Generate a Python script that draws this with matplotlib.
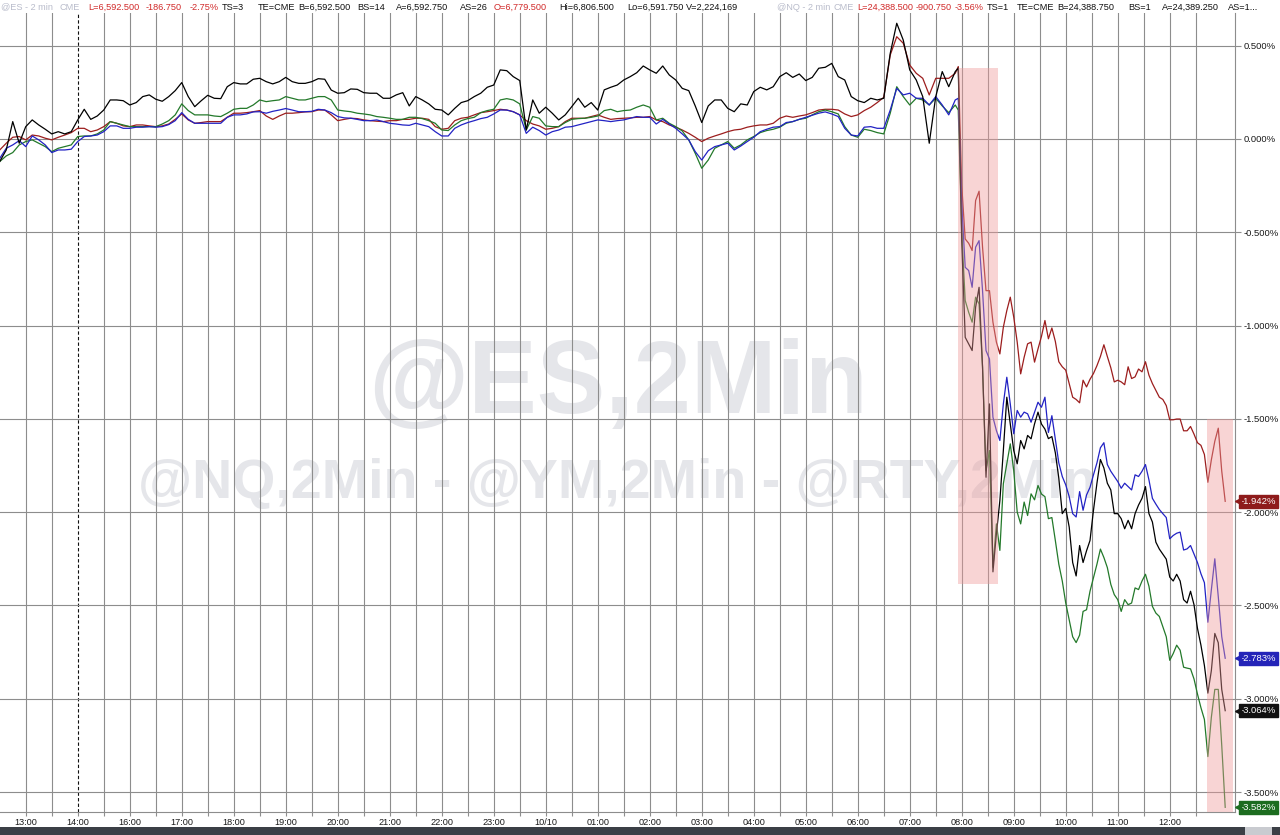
import numpy as np
import matplotlib
matplotlib.use("Agg")
import matplotlib.pyplot as plt
from matplotlib.patches import Rectangle
from matplotlib.transforms import blended_transform_factory

plt.rcParams["font.family"] = ["Liberation Sans", "DejaVu Sans"]

# =====================
# DATA  (x = minutes on the session clock, 0 = 13:00, 15:00 hour skipped)
# =====================

calm_minutes = np.arange(-30, 1075, 7.5)      # 7.5 min readings up to 07:52
crash_minutes = np.arange(1076, 1385, 4)      # 4 min readings from 07:56

rty_calm = [-0.121, -0.059, 0.093, -0.023, 0.066, 0.102, 0.075, 0.052, 0.027, 0.039,
            0.027, 0.039, 0.102, 0.159, 0.105, 0.123, 0.155, 0.209, 0.209, 0.205,
            0.182, 0.195, 0.227, 0.236, 0.213, 0.202, 0.227, 0.259, 0.302, 0.227,
            0.173, 0.205, 0.234, 0.218, 0.216, 0.280, 0.302, 0.295, 0.295, 0.320,
            0.325, 0.307, 0.295, 0.307, 0.330, 0.307, 0.298, 0.298, 0.307, 0.323,
            0.320, 0.262, 0.245, 0.248, 0.268, 0.266, 0.248, 0.245, 0.245, 0.218,
            0.218, 0.236, 0.248, 0.177, 0.227, 0.209, 0.188, 0.159,
            0.155, 0.129, 0.164, 0.195, 0.205, 0.227, 0.245, 0.277, 0.289, 0.370,
            0.366, 0.334, 0.313, 0.048, 0.209, 0.138, 0.170, 0.138, 0.102, 0.129,
            0.173, 0.218, 0.170, 0.195, 0.155, 0.263, 0.277, 0.289, 0.316, 0.334,
            0.355, 0.391, 0.370, 0.352, 0.391, 0.343, 0.316, 0.271, 0.259, 0.177,
            0.088, 0.177, 0.209, 0.209, 0.164, 0.146, 0.188, 0.182, 0.254, 0.277,
            0.263, 0.280, 0.334, 0.355, 0.330, 0.348, 0.313, 0.330, 0.379, 0.384,
            0.405, 0.334, 0.316, 0.227, 0.205, 0.195,
            0.218, 0.209, 0.218, 0.459, 0.620, 0.530, 0.370, 0.316, 0.227, -0.023,
            0.227, 0.361, 0.280, 0.361]

nq_calm = [-0.121, -0.091, -0.073, -0.032, -0.014, -0.005, -0.023, -0.041, -0.068, -0.050,
           -0.041, -0.032, 0.013, 0.016, 0.016, 0.027, 0.048, 0.093, 0.084, 0.075,
           0.066, 0.066, 0.066, 0.066, 0.066, 0.080, 0.098, 0.129, 0.188, 0.152,
           0.129, 0.129, 0.129, 0.123, 0.120, 0.138, 0.159, 0.164, 0.164, 0.182,
           0.209, 0.200, 0.205, 0.209, 0.227, 0.218, 0.209, 0.209, 0.218, 0.227,
           0.227, 0.209, 0.155, 0.150, 0.146, 0.138, 0.134, 0.129, 0.120, 0.116,
           0.111, 0.105, 0.105, 0.116, 0.116, 0.109, 0.098, 0.084,
           0.048, 0.045, 0.075, 0.098, 0.109, 0.116, 0.141, 0.152, 0.159, 0.209,
           0.216, 0.209, 0.188, 0.048, 0.120, 0.111, 0.070, 0.066, 0.066, 0.088,
           0.105, 0.109, 0.111, 0.116, 0.123, 0.152, 0.159, 0.146, 0.152, 0.155,
           0.170, 0.182, 0.170, 0.102, 0.111, 0.084, 0.066, 0.043, -0.005, -0.077,
           -0.157, -0.113, -0.050, -0.032, -0.014, -0.050, -0.032, -0.005, 0.013, 0.034,
           0.045, 0.052, 0.063, 0.084, 0.093, 0.105, 0.111, 0.129, 0.146, 0.155,
           0.146, 0.134, 0.066, 0.021, 0.009, 0.052,
           0.045, 0.034, 0.027, 0.138, 0.280, 0.227, 0.182, 0.218, 0.209, 0.182,
           0.218, 0.177, 0.141, 0.182]

es_calm = [-0.104, -0.050, -0.032, -0.009, -0.041, 0.016, -0.005, -0.032, -0.073, -0.059,
           -0.059, -0.055, -0.014, 0.013, 0.016, 0.021, 0.039, 0.070, 0.070, 0.057,
           0.057, 0.063, 0.063, 0.066, 0.063, 0.066, 0.077, 0.098, 0.141, 0.105,
           0.084, 0.084, 0.084, 0.084, 0.084, 0.116, 0.129, 0.129, 0.134, 0.145,
           0.146, 0.138, 0.148, 0.155, 0.163, 0.155, 0.146, 0.146, 0.148, 0.159,
           0.155, 0.141, 0.120, 0.113, 0.111, 0.105, 0.098, 0.098, 0.102, 0.093,
           0.084, 0.080, 0.075, 0.073, 0.084, 0.075, 0.066, 0.039,
           0.016, 0.016, 0.057, 0.075, 0.088, 0.098, 0.109, 0.116, 0.134, 0.155,
           0.155, 0.146, 0.129, 0.030, 0.063, 0.045, 0.021, 0.039, 0.048, 0.063,
           0.066, 0.075, 0.084, 0.093, 0.102, 0.098, 0.093, 0.098, 0.102, 0.111,
           0.120, 0.116, 0.116, 0.080, 0.105, 0.080, 0.057, 0.027, -0.005, -0.068,
           -0.113, -0.063, -0.041, -0.032, -0.023, -0.059, -0.038, -0.014, 0.009, 0.039,
           0.052, 0.063, 0.066, 0.088, 0.093, 0.105, 0.116, 0.127, 0.138, 0.145,
           0.134, 0.120, 0.057, 0.021, 0.016, 0.063,
           0.066, 0.057, 0.057, 0.155, 0.271, 0.236, 0.245, 0.218, 0.218, 0.182,
           0.227, 0.182, 0.129, 0.209]

ym_calm = [-0.059, -0.023, 0.009, 0.013, -0.005, 0.021, 0.016, 0.004, -0.005, 0.009,
           0.021, 0.034, 0.057, 0.057, 0.039, 0.048, 0.066, 0.093, 0.084, 0.070,
           0.066, 0.075, 0.075, 0.070, 0.066, 0.070, 0.080, 0.105, 0.134, 0.102,
           0.084, 0.088, 0.093, 0.093, 0.093, 0.116, 0.138, 0.138, 0.141, 0.146,
           0.152, 0.123, 0.105, 0.123, 0.138, 0.138, 0.141, 0.145, 0.146, 0.155,
           0.155, 0.129, 0.098, 0.105, 0.111, 0.109, 0.102, 0.098, 0.095, 0.093,
           0.098, 0.098, 0.105, 0.105, 0.111, 0.111, 0.105, 0.066,
           0.052, 0.057, 0.098, 0.111, 0.116, 0.129, 0.141, 0.146, 0.152, 0.159,
           0.155, 0.146, 0.129, 0.098, 0.080, 0.070, 0.052, 0.057, 0.066, 0.093,
           0.111, 0.111, 0.111, 0.120, 0.129, 0.116, 0.105, 0.109, 0.111, 0.113,
           0.116, 0.116, 0.120, 0.102, 0.093, 0.075, 0.063, 0.048, 0.030, 0.009,
           -0.014, 0.004, 0.016, 0.027, 0.039, 0.048, 0.052, 0.063, 0.070, 0.075,
           0.075, 0.084, 0.111, 0.123, 0.116, 0.123, 0.129, 0.141, 0.155, 0.159,
           0.159, 0.155, 0.134, 0.120, 0.129, 0.152,
           0.170, 0.195, 0.223, 0.450, 0.548, 0.513, 0.396, 0.352, 0.325, 0.236,
           0.325, 0.325, 0.325, 0.352]

ym_crash = [0.388, -0.25, -0.536, -0.559, -0.598, -0.33, -0.28, -0.58, -0.813, -0.813,
            -0.982, -1.089, -1.152, -1.009, -0.92, -0.848, -0.955, -1.089, -1.259, -1.17,
            -1.098, -1.089, -1.196, -1.125,
            -1.058, -0.973, -1.071, -1.013, -1.085, -1.194, -1.221, -1.239, -1.311, -1.384,
            -1.396, -1.414, -1.293, -1.329, -1.288, -1.257, -1.215, -1.166, -1.103, -1.166,
            -1.226, -1.302, -1.293, -1.302, -1.317, -1.221, -1.284, -1.275, -1.233, -1.248,
            -1.194, -1.266, -1.311, -1.347, -1.384, -1.396, -1.429, -1.505, -1.505, -1.501,
            -1.501, -1.564, -1.564, -1.541, -1.582, -1.628, -1.642, -1.691,
            -1.84, -1.72, -1.62, -1.55, -1.78, -1.942]

es_crash = [0.218, -0.35, -0.688, -0.705, -0.795, -0.58, -0.545, -0.813, -1.134, -1.179,
            -1.491, -1.563, -1.616, -1.42, -1.277, -1.42, -1.58, -1.455, -1.491, -1.464,
            -1.473, -1.518, -1.464, -1.411,
            -1.438, -1.384, -1.573, -1.483, -1.610, -1.736, -1.809, -1.854, -1.917, -2.008,
            -2.026, -1.890, -1.990, -1.908, -1.867, -1.800, -1.736, -1.655, -1.628, -1.745,
            -1.781, -1.809, -1.836, -1.872, -1.845, -1.863, -1.881, -1.800, -1.809, -1.781,
            -1.745, -1.827, -1.926, -1.957, -1.986, -2.008, -2.029, -2.143, -2.125, -2.113,
            -2.107, -2.203, -2.197, -2.179, -2.225, -2.270, -2.330, -2.378,
            -2.59, -2.417, -2.25, -2.453, -2.667, -2.783]

rty_crash = [0.379, -0.55, -1.063, -1.098, -1.134, -0.902, -0.795, -1.223, -1.813, -1.42,
             -2.32, -2.116, -1.938, -1.67, -1.384, -1.527, -1.67, -1.741, -1.616, -1.661,
             -1.589, -1.607, -1.527, -1.464,
             -1.528, -1.555, -1.606, -1.595, -1.682, -1.818, -2.008, -1.980, -2.080, -2.270,
             -2.342, -2.179, -2.270, -2.207, -2.152, -1.990, -1.845, -1.718, -1.763, -1.845,
             -1.881, -2.008, -2.008, -2.035, -2.089, -2.044, -2.089, -2.008, -1.962, -1.926,
             -1.863, -2.008, -2.053, -2.161, -2.198, -2.225, -2.252, -2.348, -2.369, -2.333,
             -2.369, -2.469, -2.487, -2.424, -2.496, -2.623, -2.713, -2.822,
             -2.97, -2.85, -2.65, -2.70, -2.95, -3.064]

nq_crash = [0.155, -0.5, -0.866, -0.929, -0.982, -0.848, -0.884, -1.223, -1.777, -1.67,
            -2.295, -2.063, -2.205, -1.848, -1.741, -1.634, -1.777, -2.0, -2.063, -1.946,
            -2.018, -1.902, -1.934, -1.857,
            -1.903, -1.917, -2.035, -2.029, -2.152, -2.279, -2.369, -2.487, -2.577, -2.668,
            -2.699, -2.659, -2.532, -2.523, -2.424, -2.351, -2.279, -2.198, -2.243, -2.297,
            -2.387, -2.442, -2.469, -2.532, -2.469, -2.496, -2.487, -2.406, -2.415, -2.369,
            -2.333, -2.397, -2.505, -2.541, -2.559, -2.614, -2.668, -2.794, -2.758, -2.713,
            -2.740, -2.831, -2.836, -2.840, -2.894, -2.975, -3.048, -3.111,
            -3.31, -3.10, -2.95, -2.95, -3.25, -3.582]

tick_minutes = np.arange(0, 1321, 60)
tick_labels = ["13:00", "14:00", "16:00", "17:00", "18:00", "19:00", "20:00", "21:00",
               "22:00", "23:00", "10/10", "01:00", "02:00", "03:00", "04:00", "05:00",
               "06:00", "07:00", "08:00", "09:00", "10:00", "11:00", "12:00"]
y_levels = [0.5, 0.0, -0.5, -1.0, -1.5, -2.0, -2.5, -3.0, -3.5]

# highlighted windows: (start min, end min, low %, high %)
highlights = [(1075.7, 1121.8, -2.386, 0.382),
              (1363.0, 1393.0, -3.62, -1.5)]

series = [  # name, calm, crash, line colour, tag colour
    ("YM", ym_calm, ym_crash, "#9c1d1d", "#8e1b1b"),
    ("NQ", nq_calm, nq_crash, "#23792a", "#1c6c1f"),
    ("ES", es_calm, es_crash, "#2222c4", "#2424b8"),
    ("RTY", rty_calm, rty_crash, "#000000", "#111111"),
]

GREY_T, RED_T, BLK_T = "#b9bccb", "#d12a2a", "#111111"
header = [  # x px, text, colour
    (1, "@ES - 2 min", GREY_T), (60, "CME", GREY_T),
    (88, "L=6,592.500", RED_T), (146, "-186.750", RED_T), (190, "-2.75%", RED_T),
    (222, "TS=3", BLK_T), (258, "TE=CME", BLK_T), (292, "B=6,592.500", BLK_T),
    (357, "BS=14", BLK_T), (396, "A=6,592.750", BLK_T), (460, "AS=26", BLK_T),
    (494, "O=6,779.500", RED_T), (559, "Hi=6,806.500", BLK_T),
    (627, "Lo=6,591.750", BLK_T), (686, "V=2,224,169", BLK_T),
    (777, "@NQ - 2 min", GREY_T), (811, "CME", GREY_T),
    (834, "L=24,388.500", RED_T), (905, "-900.750", RED_T), (950, "-3.56%", RED_T),
    (984, "TS=1", BLK_T), (1017, "TE=CME", BLK_T), (1052, "B=24,388.750", BLK_T),
    (1128, "BS=1", BLK_T), (1162, "A=24,389.250", BLK_T), (1228, "AS=1...", BLK_T),
]

# =====================
# FIGURE
# =====================

W, H = 1280, 835
fig = plt.figure(figsize=(W / 100, H / 100), dpi=100)
ax = fig.add_axes([0, 23 / H, 1235 / W, 799 / H])

ax.set_xlim(-29.7, 1395.3)
ax.set_ylim(-3.607, 0.675)

GRID = "#8d8d8d"
for m in np.arange(30, 1351, 30):
    if m == 60:
        ax.axvline(m, color="#111", lw=0.8, ls=(0, (3, 2)), zorder=1)
    else:
        ax.axvline(m, color=GRID, lw=0.8, zorder=1)
for v in y_levels:
    ax.axhline(v, color=GRID, lw=0.8, zorder=1)
ax.axvline(0, color=GRID, lw=0.8, zorder=1)

# watermarks
ax.text(0.5, 0.5, "@ES,2Min", transform=ax.transAxes, ha="center", va="baseline",
        fontsize=74, fontweight="bold", color="#e5e6ea", zorder=0)
ax.text(0.5, 0.393, "@NQ,2Min - @YM,2Min - @RTY,2Min", transform=ax.transAxes,
        ha="center", va="baseline", fontsize=40, fontweight="bold", color="#e5e6ea", zorder=0)

for name, calm, crash, lc, tc in series:
    x = np.concatenate([calm_minutes, crash_minutes])
    y = np.concatenate([calm, crash])
    ax.plot(x, y, color=lc, lw=0.9, zorder=3)

for x0, x1, lo, hi in highlights:
    ax.add_patch(Rectangle((x0, lo), x1 - x0, hi - lo, facecolor="#ef9a9a",
                           alpha=0.42, edgecolor="none", zorder=4))

# axes styling
for s in ["left", "top"]:
    ax.spines[s].set_visible(False)
ax.spines["right"].set_color(GRID)
ax.spines["bottom"].set_color(GRID)

ax.yaxis.tick_right()
ax.set_yticks(y_levels)
ax.set_yticklabels([f"{v:.3f}%" for v in y_levels])
ax.tick_params(axis="y", length=4, width=0.8, color=GRID, pad=2,
               labelsize=6.8, labelcolor="#1a1a1a")

ax.set_xticks(tick_minutes)
ax.set_xticklabels(tick_labels)
ax.set_xticks(np.arange(30, 1351, 60), minor=True)
ax.tick_params(axis="x", which="both", length=3, width=0.8, color=GRID, pad=1.5,
               labelsize=6.6, labelcolor="#1a1a1a")

# last value tags
tr = blended_transform_factory(ax.transAxes, ax.transData)
for name, calm, crash, lc, tc in series:
    v = crash[-1]
    ax.text(1.0045, v, f"{v:.3f}%", transform=tr, ha="left", va="center",
            fontsize=6.8, color="white", clip_on=False, zorder=6,
            bbox=dict(boxstyle="square,pad=0.2", fc=tc, ec=tc))
    ax.plot([1.0025], [v], marker="<", ms=4, color=tc, transform=tr,
            clip_on=False, zorder=6)

# header: keep each token at its position unless the previous one runs into it
renderer = fig.canvas.get_renderer()
cursor = 0
for xp, txt, col in header:
    xs = max(xp, cursor)
    t = fig.text(xs / W, 1 - 7 / H, txt, ha="left", va="center", fontsize=6.6, color=col)
    cursor = t.get_window_extent(renderer).x1 + 3

# bottom scroll bar
fig.patches.append(Rectangle((0, 0), 1, 8 / H, transform=fig.transFigure,
                             facecolor="#3b3f46", edgecolor="none"))
fig.patches.append(Rectangle((1245 / W, 0), 27 / W, 8 / H, transform=fig.transFigure,
                             facecolor="#c9cbd0", edgecolor="none"))

fig.savefig("out.png", dpi=100)
